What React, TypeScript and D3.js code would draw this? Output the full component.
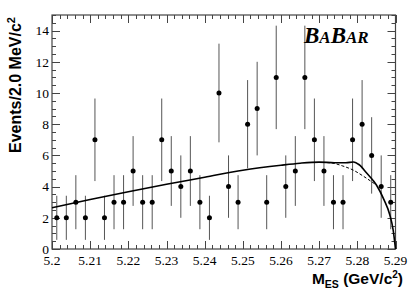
import { useRef, useEffect } from "react";
import * as d3 from "d3";

// m_ES histogram, bin counts
const binStart = 5.2;
const binWidth = 0.0025;
const counts = [2, 2, 3, 2, 7, 2, 3, 3, 5, 3, 3, 7, 5, 4, 5, 3, 2, 10, 4, 3, 8, 9, 3, 11, 4, 5, 11, 7, 5, 3, 3, 7, 8, 6, 4, 3];

// total fit (solid) and background only (dashed)
const fitTotal: [number, number][] = [
  [5.2, 2.65], [5.21, 3.17], [5.22, 3.67], [5.23, 4.15], [5.24, 4.6], [5.25, 5.05],
  [5.26, 5.37], [5.265, 5.5], [5.27, 5.57], [5.274, 5.53], [5.277, 5.53], [5.279, 5.58],
  [5.2805, 5.4], [5.2825, 4.85], [5.285, 4.1], [5.287, 3.15], [5.2885, 2.2], [5.2894, 1.2], [5.29, 0],
];
const fitBackground: [number, number][] = [
  [5.272, 5.54], [5.2736, 5.5], [5.2762, 5.32], [5.2789, 5.06], [5.2815, 4.68], [5.2837, 4.32], [5.285, 4.1],
];

const xTickLabels = ["5.2", "5.21", "5.22", "5.23", "5.24", "5.25", "5.26", "5.27", "5.28", "5.29"];
const yTickLabels = ["0", "2", "4", "6", "8", "10", "12", "14"];

export default function App() {
  const svgRef = useRef<SVGSVGElement>(null);

  useEffect(() => {
    if (!svgRef.current) return;
    const svg = d3.select(svgRef.current);
    svg.selectAll("*").remove();

    const left = 52, right = 395.5, top = 15, bottom = 249;
    const x = d3.scaleLinear().domain([5.2, 5.29]).range([left, right]);
    const y = d3.scaleLinear().domain([0, 15]).range([bottom, top]);
    const axisColor = "#444";
    const serif = "'Liberation Serif', 'DejaVu Serif', serif";
    const sans = "'Liberation Sans', Arial, sans-serif";

    svg.append("rect").attr("width", 416).attr("height", 297).attr("fill", "#fff");

    // ticks
    const ticks = svg.append("g").attr("stroke", axisColor).attr("stroke-width", 1);
    d3.range(0, 46).forEach((i) => {
      const v = 5.2 + i * 0.002;
      const len = i % 5 === 0 ? 8 : 4;
      const px = Math.round(x(v)) + 0.5;
      ticks.append("line").attr("x1", px).attr("x2", px).attr("y1", bottom).attr("y2", bottom - len);
      ticks.append("line").attr("x1", px).attr("x2", px).attr("y1", top).attr("y2", top + len);
    });
    d3.range(0, 31).forEach((i) => {
      const v = i * 0.5;
      const len = i % 4 === 0 ? 8 : 4;
      const py = Math.round(y(v)) + 0.5;
      ticks.append("line").attr("x1", left).attr("x2", left + len).attr("y1", py).attr("y2", py);
      ticks.append("line").attr("x1", right).attr("x2", right - len).attr("y1", py).attr("y2", py);
    });

    svg.append("rect")
      .attr("x", left).attr("y", top)
      .attr("width", right - left).attr("height", bottom - top)
      .attr("fill", "none").attr("stroke", axisColor).attr("stroke-width", 1.2);

    // tick labels
    xTickLabels.forEach((t) => {
      svg.append("text")
        .attr("x", x(+t)).attr("y", 265)
        .attr("text-anchor", "middle")
        .attr("font-family", serif).attr("font-size", 13.5)
        .text(t);
    });
    yTickLabels.forEach((t) => {
      svg.append("text")
        .attr("x", 49).attr("y", y(+t)).attr("dy", "0.36em")
        .attr("text-anchor", "end")
        .attr("font-family", serif).attr("font-size", 13.5)
        .text(t);
    });

    // error bars + points
    const pts = svg.append("g");
    counts.forEach((n, i) => {
      const cx = x(binStart + (i + 0.5) * binWidth);
      const e = Math.sqrt(n);
      pts.append("line")
        .attr("x1", cx).attr("x2", cx)
        .attr("y1", y(Math.max(0, n - e))).attr("y2", y(n + e))
        .attr("stroke", "#555").attr("stroke-width", 1);
      pts.append("circle").attr("cx", cx).attr("cy", y(n)).attr("r", 2.5).attr("fill", "#000");
    });

    // fit curves
    const line = d3.line<[number, number]>()
      .x((d) => x(d[0]))
      .y((d) => y(d[1]))
      .curve(d3.curveMonotoneX);
    svg.append("path").attr("d", line(fitBackground)!)
      .attr("fill", "none").attr("stroke", "#000").attr("stroke-width", 1).attr("stroke-dasharray", "3,2");
    svg.append("path").attr("d", line(fitTotal)!)
      .attr("fill", "none").attr("stroke", "#000").attr("stroke-width", 1.6);

    // axis titles
    const yt = svg.append("text")
      .attr("transform", "translate(21,85) rotate(-90)")
      .attr("text-anchor", "middle")
      .attr("font-family", sans).attr("font-weight", "bold").attr("font-size", 16);
    yt.append("tspan").text("Events/2.0 MeV/c");
    yt.append("tspan").attr("dy", -6).attr("font-size", 11).text("2");

    const xt = svg.append("text")
      .attr("x", 403).attr("y", 284)
      .attr("text-anchor", "end")
      .attr("font-family", sans).attr("font-weight", "bold").attr("font-size", 15.5);
    xt.append("tspan").text("M");
    xt.append("tspan").attr("font-size", 10.5).attr("dy", 4).text("ES");
    xt.append("tspan").attr("dy", -4).text(" (GeV/c");
    xt.append("tspan").attr("font-size", 10).attr("dy", -6).text("2");
    xt.append("tspan").attr("dy", 6).text(")");

    // logo
    const logo = svg.append("text")
      .attr("x", 304).attr("y", 43)
      .attr("font-family", serif).attr("font-weight", "bold").attr("font-style", "italic");
    logo.append("tspan").attr("font-size", 23).text("B");
    logo.append("tspan").attr("font-size", 17).text("A");
    logo.append("tspan").attr("font-size", 23).text("B");
    logo.append("tspan").attr("font-size", 17).text("AR");
  }, []);

  return (
    <svg
      ref={svgRef}
      width={416}
      height={297}
      style={{ position: "absolute", left: 0, top: 0 }}
    />
  );
}
